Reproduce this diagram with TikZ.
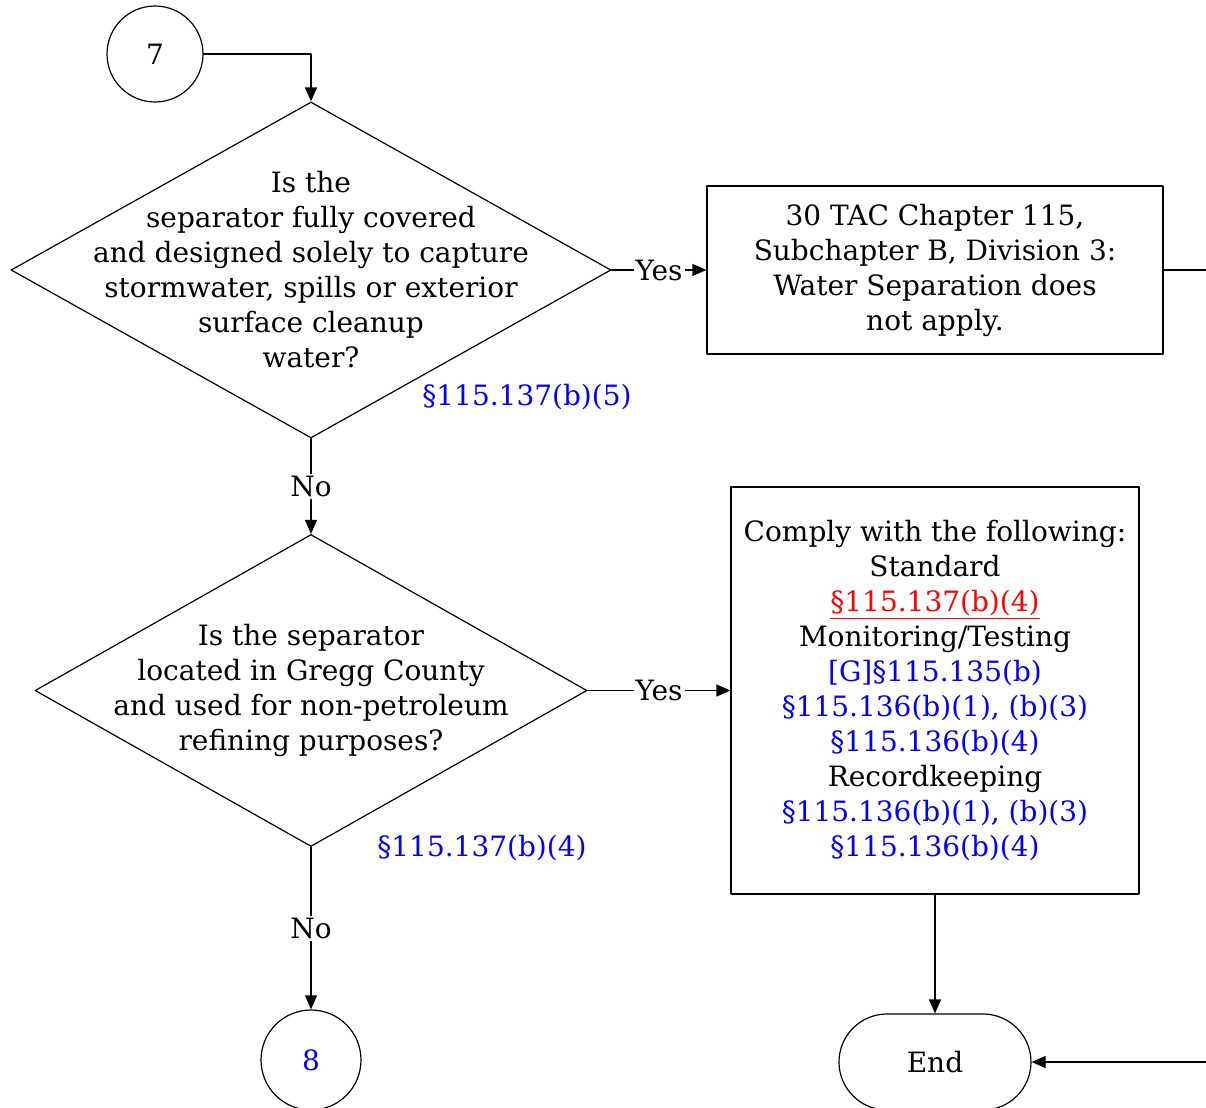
\documentclass[tikz,border=0pt]{standalone}
\usepackage{fontspec}
\setmainfont{DejaVu Serif}
\usetikzlibrary{arrows.meta,shapes.geometric,positioning}

\begin{document}
\begin{tikzpicture}[x=0.5pt,y=-0.5pt,line cap=round,line join=round,line width=0.6pt,
	every node/.style={font=\fontsize{14}{17.5}\selectfont},
	ref/.style={text=blue},
	decision/.style={draw,diamond,inner sep=0pt},
	box/.style={draw,rectangle,inner sep=0pt,align=center},
	conn/.style={-{Triangle[length=7pt,width=6pt]}},
	tag/.style={fill=white,inner sep=1pt}]
	\useasboundingbox (0,0) rectangle (1206,1108);

	% connectors and terminals
	\node[draw,circle,minimum size=48pt,inner sep=0pt] (c7) at (155,54) {7};
	\node[draw,circle,minimum size=50pt,inner sep=0pt,ref] (c8) at (311,1060) {8};
	\node[box,minimum width=96pt,minimum height=48pt,rounded corners=24pt] (end) at (935,1062) {End};

	% decisions
	\node[decision,minimum width=300pt,minimum height=168pt] (q1) at (311,270) {};
	\node[align=center] at (q1) {Is the\\separator fully covered\\and designed solely to capture\\stormwater, spills or exterior\\surface cleanup\\water?};
	\node[ref] (r1) at (527,397) {§115.137(b)(5)};

	\node[decision,minimum width=276pt,minimum height=156pt] (q2) at (311,690.5) {};
	\node[align=center] at (q2) {Is the separator\\located in Gregg County\\and used for non-petroleum\\refining purposes?};
	\node[ref] (r2) at (482,848) {§115.137(b)(4)};

	% actions
	\node[box,minimum width=228pt,minimum height=84pt] (a1) at (935,270)
		{30 TAC Chapter 115,\\Subchapter B, Division 3:\\Water Separation does\\not apply.};
	\node[box,minimum width=204pt,minimum height=203.5pt] (a2) at (935,690.5)
		{Comply with the following:\\Standard\\\textcolor{red}{\underline{§115.137(b)(4)}}\\Monitoring/Testing\\
		\textcolor{blue}{[G]§115.135(b)}\\\textcolor{blue}{§115.136(b)(1), (b)(3)}\\\textcolor{blue}{§115.136(b)(4)}\\
		Recordkeeping\\\textcolor{blue}{§115.136(b)(1), (b)(3)}\\\textcolor{blue}{§115.136(b)(4)}};

	\coordinate (offa) at (1206,270);
	\coordinate (offb) at (1206,1062);

	% flow
	\draw[conn] (c7.east) -| (q1.north);
	\draw[conn] (q1.east) -- node[tag] {Yes} (a1.west);
	\draw[conn] (q1.south) -- node[tag] {No} (q2.north);
	\draw[conn] (q2.east) -- node[tag] {Yes} (a2.west);
	\draw[conn] (q2.south) -- node[tag] {No} (c8.north);
	\draw[conn] (a2.south) -- (end.north);
	\draw (a1.east) -- (offa);
	\draw[conn] (offb) -- (end.east);
\end{tikzpicture}
\end{document}
